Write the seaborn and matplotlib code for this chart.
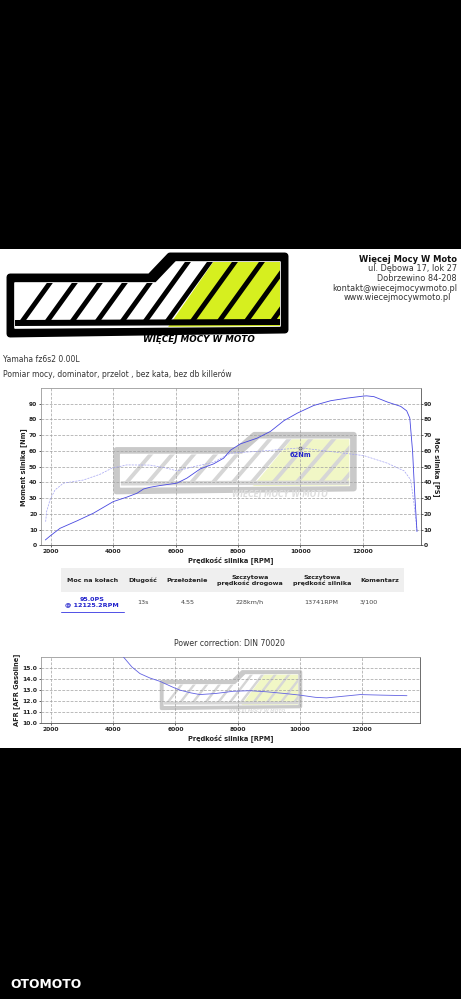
import numpy as np
import pandas as pd
import matplotlib
matplotlib.use("Agg")
import matplotlib.pyplot as plt
import seaborn as sns
from matplotlib.patches import Polygon, Rectangle
from matplotlib.lines import Line2D
from matplotlib.transforms import Affine2D

# dyno run values
rpm_power = [1820, 1970, 2290, 2830, 3360, 4000, 4430, 4760, 4970, 5180, 5500, 6040, 6360,
             6790, 7220, 7540, 7760, 8080, 8610, 9040, 9470, 9900, 10430, 10970, 11510,
             12040, 12125, 12360, 12790, 13220, 13410, 13510, 13600, 13670, 13741]
power_ps = [3.4, 5.9, 10.8, 15.5, 20.4, 27.8, 30.6, 33.1, 35.8, 36.9, 38.0, 39.5, 42.7,
            48.6, 51.8, 55.4, 60.5, 64.5, 68.1, 72.4, 79.2, 84.0, 88.9, 91.9, 93.6,
            94.9, 95.0, 94.5, 91.1, 88.3, 85.5, 80.9, 59.6, 32.0, 8.7]

rpm_torque = [1830, 1860, 1970, 2130, 2400, 3040, 3580, 3950, 4430, 5180, 5720, 6040, 6580,
              7220, 7760, 8830, 9900, 10000, 10970, 12040, 12790, 13330, 13540, 13650, 13741]
torque_nm = [15.0, 21.4, 29.0, 35.2, 39.5, 41.5, 45.2, 49.0, 51.1, 51.0, 49.0, 47.3, 50.0,
             52.8, 58.6, 60.0, 61.8, 62.0, 59.6, 57.0, 52.2, 47.3, 41.6, 25.7, 9.5]

peak_torque_rpm = 10000
peak_torque_nm = 62

rpm_afr = [4330, 4600, 4860, 5180, 5500, 5930, 6150, 6500, 6790, 7300, 7860, 8400, 8930,
           9500, 10000, 10500, 10860, 11400, 11940, 12600, 13440]
afr = [16.0, 15.1, 14.5, 14.1, 13.8, 13.25, 13.0, 12.75, 12.6, 12.7, 12.9, 12.95, 12.85,
       12.7, 12.55, 12.35, 12.3, 12.45, 12.6, 12.55, 12.5]

rpm_ticks = [2000, 4000, 6000, 8000, 10000, 12000]
nm_ticks = [0, 10, 20, 30, 40, 50, 60, 70, 80, 90]
afr_ticks = [10.0, 11.0, 12.0, 13.0, 14.0, 15.0]

header_lines = ["ul. Dębowa 17, lok 27", "Dobrzewino 84-208", "kontakt@wiecejmocywmoto.pl"]
table_header = ["Moc na kołach", "Długość", "Przełożenie", "Szczytowa\nprędkość drogowa",
                "Szczytowa\nprędkość silnika", "Komentarz"]
table_row = ["95.0PS\n@ 12125.2RPM", "13s", "4.55", "228km/h", "13741RPM", "3/100"]

W, H = 461, 999
sns.set_theme(style="whitegrid")
plt.rcParams['font.family'] = ['DejaVu Sans']

fig = plt.figure(figsize=(W / 100, H / 100), dpi=100, facecolor="black")
# pixel coords, origin top-left
px = Affine2D().scale(1 / W, -1 / H).translate(0, 1) + fig.transFigure


def box(l, t, r, b):
    return [l / W, 1 - b / H, (r - l) / W, (b - t) / H]


def txt(x, y, s, **kw):
    kw.setdefault("va", "center")
    fig.text(x, y, s, transform=px, **kw)


def logo(ax, x0, y0, w, h, edge, stripe, lime, tcol, z):
    sx, sy = w / 285, h / 94

    def P(pts):
        return [(x0 + (x - 5) * sx, y0 + (y - 252) * sy) for x, y in pts]

    def add(pts, fc, clip=None, **kw):
        p = Polygon(P(pts), transform=px, fc=fc, ec=kw.pop("ec", "none"), zorder=z, **kw)
        ax.add_patch(p)
        if clip is not None:
            p.set_clip_path(clip)
        return p

    add([(10, 277), (150, 277), (170, 256), (285, 256), (285, 330), (10, 334)], edge,
        ec=edge, lw=5 * sx, joinstyle="round")
    inner = add([(15, 283), (156, 283), (176, 262), (280, 262), (280, 326), (15, 328)], "white",
                ec="white", lw=1.2 * sx, joinstyle="round")
    add([(166, 330), (216, 258), (284, 258), (284, 330)], lime, clip=inner)
    for xb in [18, 43, 68, 93, 118, 141, 163, 188, 215, 242, 268]:
        add([(xb, 323), (xb + 6, 323), (xb + 6 + 0.72 * 70, 253), (xb + 0.72 * 70, 253)],
            stripe, clip=inner)
    # bottom bar the stripes stand on
    add([(15, 320), (280, 319), (280, 325), (15, 326)], stripe, clip=inner)
    cx, cy = P([(199, 339)])[0]
    ax.text(cx, cy, "WIĘCEJ MOCY W MOTO", transform=px, ha="center", va="center",
            fontsize=6.3 * sx, fontweight="bold", fontstyle="italic", color=tcol, zorder=z)


# background + header logo
bg = fig.add_axes([0, 0, 1, 1], zorder=-1)
bg.axis("off")
bg.add_patch(Rectangle((0, 249), W, 499, transform=px, fc="white", ec="none"))
logo(bg, 5, 252, 285, 94, "black", "black", "#d6ef1f", "black", 1)

txt(457, 259, "Więcej Mocy W Moto", ha="right", fontsize=6.0, fontweight="bold", color="#111")
for i, line in enumerate(header_lines):
    txt(457, 268.5 + i * 9.8, line, ha="right", fontsize=5.9, color="#333")
txt(451, 298, "www.wiecejmocywmoto.pl", ha="right", fontsize=5.9, color="#333")

txt(3, 360, "Yamaha fz6s2 0.00L", fontsize=5.5, color="#333")
txt(3, 374, "Pomiar mocy, dominator, przelot , bez kata, bez db killerów", fontsize=5.5, color="#333")

grid_kw = dict(color="#a0a0a0", linestyle=(0, (4, 2)), linewidth=0.5)


def style_axes(ax):
    ax.set_facecolor("white")
    ax.set_axisbelow(True)
    ax.grid(True, **grid_kw)
    ax.set_xlim(1680, 13860)
    ax.set_xticks(rpm_ticks)
    ax.set_xticklabels([str(v) for v in rpm_ticks], fontsize=4.3, fontweight="bold")
    ax.tick_params(axis="both", bottom=True, left=True, length=1.5, width=0.5,
                   pad=1.2, colors="#222", labelsize=4.3)
    for side in ["left", "top"]:
        ax.spines[side].set_color("#9a9a9a")
    for side in ["bottom", "right"]:
        ax.spines[side].set_color("#555")
    for sp in ax.spines.values():
        sp.set_linewidth(0.6)
    ax.set_xlabel("Prędkość silnika [RPM]", fontsize=4.8, fontweight="bold", labelpad=1.5, color="#222")


# main dyno chart
ax = fig.add_axes(box(41, 388, 420.7, 545.3))
style_axes(ax)
ax.set_ylim(0, 100)
ax.set_yticks(nm_ticks)
ax.set_yticklabels([str(v) for v in nm_ticks], fontsize=4.3, fontweight="bold")
ax.set_ylabel("Moment silnika [Nm]", fontsize=4.8, fontweight="bold", labelpad=1.5, color="#222")
logo(ax, 112, 432, 246, 68, "#c9c9c9", "#d6d6d6", "#f1f7c6", "#dedede", 0.2)

sns.lineplot(x=rpm_torque, y=torque_nm, ax=ax, color="#a3a3f2", linewidth=0.5,
             linestyle=(0, (3, 1.5)), errorbar=None, zorder=3)
axr = ax.twinx()
axr.set_ylim(0, 100)
axr.grid(False)
axr.set_yticks(nm_ticks)
axr.set_yticklabels([str(v) for v in nm_ticks], fontsize=4.3, fontweight="bold")
axr.tick_params(axis="y", right=True, length=1.2, width=0.5, pad=0.8, colors="#222")
for sp in axr.spines.values():
    sp.set_visible(False)
axr.set_ylabel("Moc silnika [PS]", fontsize=4.8, fontweight="bold", rotation=270,
               labelpad=6, color="#222")
sns.lineplot(x=rpm_power, y=power_ps, ax=axr, color="#4848e0", linewidth=0.6,
             errorbar=None, zorder=3)
axr.set_xlim(1680, 13860)

ax.plot(peak_torque_rpm, peak_torque_nm, marker="o", mfc="none", mec="#555",
        ms=2.2, mew=0.5, zorder=4)
ax.annotate(f"{peak_torque_nm}Nm", (peak_torque_rpm, peak_torque_nm), xytext=(0, -5.3),
            textcoords="offset points", ha="center", va="center", fontsize=4.8,
            fontweight="bold", color="#2222cc", zorder=5)

# results table
bg.add_patch(Rectangle((61, 568), 343, 23.5, transform=px, fc="#efefef", ec="none"))
col_x = [92.3, 142.7, 187.3, 250, 321.7, 379.3]
for x, s in zip(col_x, table_header):
    txt(x, 580.5, s, ha="center", fontsize=4.6, fontweight="bold", color="#222", linespacing=1.15)
txt(col_x[0], 602.2, table_row[0], ha="center", fontsize=4.6, fontweight="bold",
    color="#2222cc", linespacing=1.2)
for x, s in zip(col_x[1:5], table_row[1:5]):
    txt(x, 602.5, s, ha="center", fontsize=4.6, color="#444")
txt(360, 602.5, table_row[5], ha="left", fontsize=4.6, color="#444")
fig.add_artist(Line2D([61, 124], [612.3, 612.3], transform=px, color="#5050e6", lw=0.7))

txt(229, 644, "Power correction: DIN 70020", ha="center", fontsize=5.6, color="#333")

# AFR chart
ax2 = fig.add_axes(box(41, 657, 420, 723.3))
style_axes(ax2)
ax2.set_ylim(10, 16)
ax2.set_yticks(afr_ticks)
ax2.set_yticklabels([f"{v:.1f}" for v in afr_ticks], fontsize=4.3, fontweight="bold")
ax2.set_ylabel("AFR [AFR Gasoline]", fontsize=4.8, fontweight="bold", labelpad=1.5, color="#222")
logo(ax2, 159, 670, 144, 44, "#c9c9c9", "#d6d6d6", "#f1f7c6", "#dedede", 0.2)
sns.lineplot(x=rpm_afr, y=afr, ax=ax2, color="#6262e2", linewidth=0.6, errorbar=None, zorder=3)

txt(10, 985, "OTOMOTO", ha="left", fontsize=8.8, fontweight="bold", color="white")

fig.savefig("out.png", dpi=100, facecolor=fig.get_facecolor())
